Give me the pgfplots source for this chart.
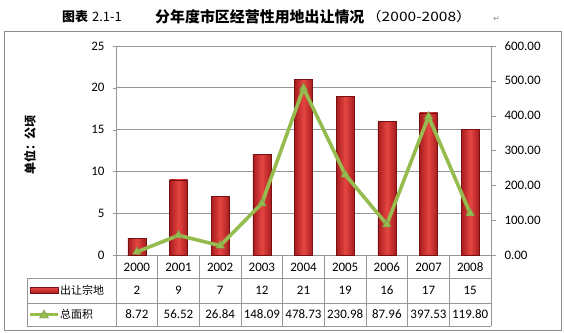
\documentclass[border=0pt]{standalone}
\usepackage{pgfplots}
\pgfplotsset{compat=1.18}
\usepackage{fontspec}
\setmainfont{Carlito}
\newfontfamily\cjk{Noto Sans CJK SC}
\newfontfamily\symf{DejaVu Sans}
\definecolor{barEdge}{RGB}{120,16,18}
\definecolor{barSide}{RGB}{168,28,30}
\definecolor{barMid}{RGB}{228,70,66}
\definecolor{lineG}{RGB}{150,188,80}
\definecolor{gridG}{RGB}{150,150,150}
\definecolor{frameG}{RGB}{140,140,140}
\pgfplotsset{redbar/.style={ybar, bar width=18bp, draw=barEdge, line width=0.5bp, left color=barSide, right color=barSide, middle color=barMid}}
\begin{document}
\begin{tikzpicture}
\begin{scope}[x=1bp,y=1bp]
\useasboundingbox (0,0) rectangle (564,332);
\draw[frameG, line width=0.8bp] (4,1.5) rectangle (561,301);
% title
\node[anchor=west, inner sep=0] at (62,315) {\fontsize{13}{15}\selectfont\cjk\bfseries 图表};
\node[anchor=west, inner sep=0] at (92,315) {\fontsize{13}{15}\selectfont\cjk 2.1-1};
\node[anchor=west, inner sep=0] at (155,315) {\fontsize{15}{17}\selectfont\cjk\bfseries 分年度市区经营性用地出让情况};
\node[anchor=west, inner sep=0] at (366,315) {\fontsize{13}{15}\selectfont\cjk\scalebox{1.2}[1]{（2000-2008）}};
\node[anchor=west, inner sep=0] at (493,313) {\fontsize{8}{10}\selectfont\symf\color{gray}↵};
% y label
\node[rotate=90] at (30,187) {\fontsize{12}{14}\selectfont\cjk\bfseries 单位：公顷};
\end{scope}

\begin{axis}[at={(116bp,77bp)}, anchor=south west, width=375bp, height=209bp, scale only axis,
  xmin=-0.5, xmax=8.5, ymin=0, ymax=25,
  ytick={0,5,...,25}, ytick pos=left,
  xtick={0,...,8}, xticklabels={2000,2001,2002,2003,2004,2005,2006,2007,2008},
  xtick style={draw=none},
  xticklabel style={anchor=center, yshift=-9bp},
  axis line style={gridG, line width=0.7bp},
  ymajorgrids, grid style={gridG, line width=0.7bp},
  tick align=outside, major tick length=3bp, ytick style={gridG},
  yticklabel style={xshift=-5bp},
  tick label style={font=\fontsize{13}{15}\selectfont},
  /pgf/number format/assume math mode=true,
  clip=false]
\addplot[redbar] coordinates {(0,2)};
\addplot[redbar] coordinates {(1,9)};
\addplot[redbar] coordinates {(2,7)};
\addplot[redbar] coordinates {(3,12)};
\addplot[redbar] coordinates {(4,21)};
\addplot[redbar] coordinates {(5,19)};
\addplot[redbar] coordinates {(6,16)};
\addplot[redbar] coordinates {(7,17)};
\addplot[redbar] coordinates {(8,15)};
\end{axis}

\begin{axis}[at={(116bp,77bp)}, anchor=south west, width=375bp, height=209bp, scale only axis,
  xmin=-0.5, xmax=8.5, ymin=0, ymax=600,
  axis y line*=right, axis x line=none,
  ytick={0,100,...,600},
  axis line style={gridG, line width=0.7bp},
  tick align=outside, major tick length=5bp, ytick style={gridG},
  yticklabel style={xshift=5bp, /pgf/number format/.cd, fixed, fixed zerofill, precision=2, assume math mode=true},
  tick label style={font=\fontsize{13}{15}\selectfont},
  clip=false]
\addplot[lineG, line width=3.6bp, mark=triangle*, mark size=5bp, mark options={fill=lineG, draw=lineG!80!black, line width=0.4bp}]
  coordinates {(0,8.72)(1,56.52)(2,26.84)(3,148.09)(4,478.73)(5,230.98)(6,87.96)(7,397.53)(8,119.80)};
\end{axis}

% data table
\begin{scope}[x=1bp,y=1bp]
\begin{scope}[gridG, line width=0.7bp]
\draw (27,54) -- (491,54);
\draw (27,29) -- (491,29);
\draw (27,6) -- (491,6);
\draw (27,54) -- (27,6);
\foreach \k in {0,...,9} { \draw ({116+41.6667*\k},77) -- ({116+41.6667*\k},6); }
\end{scope}
\fill[top color=barMid, bottom color=barSide, draw=barEdge, line width=0.5bp] (30,38.5) rectangle (58,44.5);
\draw[lineG, line width=2.6bp] (30,17.5) -- (58,17.5);
\fill[lineG, draw=lineG!80!black, line width=0.4bp] (39.5,14) -- (48.5,14) -- (44,22) -- cycle;
\node[anchor=west, inner sep=0] at (60,41.5) {\fontsize{11}{13}\selectfont\cjk 出让宗地};
\node[anchor=west, inner sep=0] at (60,17.5) {\fontsize{11}{13}\selectfont\cjk 总面积};
\foreach \v [count=\i from 0] in {2,9,7,12,21,19,16,17,15}
  { \node[font=\fontsize{13}{15}\selectfont] at ({116+41.6667*(\i+0.5)},41.5) {\v}; }
\foreach \v [count=\i from 0] in {8.72,56.52,26.84,148.09,478.73,230.98,87.96,397.53,119.80}
  { \node[font=\fontsize{13}{15}\selectfont] at ({116+41.6667*(\i+0.5)},17.5) {\v}; }
\end{scope}
\end{tikzpicture}
\end{document}
